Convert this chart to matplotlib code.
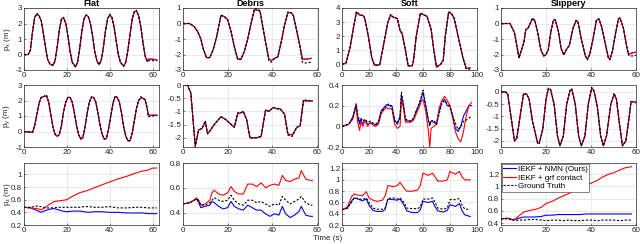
import matplotlib
matplotlib.use("Agg")
import matplotlib.pyplot as plt

plt.rcParams["font.family"] = ["Liberation Sans", "DejaVu Sans"]
plt.rcParams["mathtext.fontset"] = "custom"
plt.rcParams["mathtext.rm"] = "Liberation Sans"

# ---- Flat ----
flat_t1 = [0, 2, 3, 4, 5, 6, 7, 8, 9, 10, 11, 12, 13.5, 14.5, 15.5, 16.5, 17.5, 18.5, 19.5, 20.5,
           21.5, 22.5, 24, 25, 26, 27, 28, 29, 30, 31, 32, 33, 34, 35, 36, 37, 38, 39, 40, 41,
           42, 43, 44, 45, 46.5, 47.5, 48.5, 49.5, 50.5, 51.5, 52.5, 53.5, 54.5, 55.5, 56.5, 57.5, 58, 60, 62]
flat_px_est = [0, 0, 0.3, 1.5, 2.4, 2.6, 2.5, 2.2, 1.4, 0.5, -0.3, -0.6, -0.7, -0.4, 0.5, 1.6, 2.3, 2.35, 2.0, 1.2,
               0.2, -0.5, -0.8, -0.5, 0.4, 1.5, 2.3, 2.55, 2.45, 2.0, 1.2, 0.2, -0.4, -0.65, -0.4, 0.4, 1.5, 2.3, 2.55, 2.4,
               1.8, 0.9, 0, -0.5, -0.75, -0.5, 0.3, 1.3, 2.3, 2.75, 2.8, 2.5, 1.8, 0.8, -0.1, -0.45, -0.3, -0.3, -0.35]
flat_px_gt = [0, 0, 0.3, 1.5, 2.4, 2.65, 2.5, 2.2, 1.4, 0.5, -0.3, -0.6, -0.7, -0.4, 0.5, 1.6, 2.3, 2.4, 2.0, 1.2,
              0.2, -0.5, -0.8, -0.5, 0.4, 1.5, 2.3, 2.55, 2.45, 2.0, 1.2, 0.2, -0.4, -0.65, -0.4, 0.4, 1.5, 2.3, 2.6, 2.4,
              1.8, 0.9, 0, -0.5, -0.75, -0.5, 0.3, 1.3, 2.3, 2.8, 2.85, 2.5, 1.8, 0.8, -0.1, -0.45, -0.4, -0.4, -0.4]

flat_t2 = [0, 4, 5, 6, 7, 8, 9, 10.5, 11.5, 12.5, 13.5, 14.5, 15.5, 16.5, 17.5, 18.5, 19.5, 20.5,
           21.5, 22.5, 23.5, 24.5, 25.5, 26.5, 27.5, 28.5, 29.5, 30.5, 31.5, 32.5, 33.5, 34.5, 35.5, 36.5,
           37.5, 38.5, 39.5, 40.5, 41.5, 42.5, 43.5, 44.5, 45.5, 46.5, 47.5, 48.5, 49.5, 50.5, 51.5, 52.5,
           53.5, 54.5, 55.5, 56.5, 57.5, 58, 60, 62]
flat_py_gt = [0, -0.05, 0.4, 1.1, 1.8, 2.2, 2.25, 2.35, 1.9, 1.1, 0.3, -0.15, -0.3, -0.2, 0.4, 1.3, 1.9, 2.2,
              2.2, 1.9, 1.2, 0.4, -0.2, -0.45, -0.35, 0.3, 1.2, 1.9, 2.25, 2.2, 1.9, 1.2, 0.4, -0.2,
              -0.5, -0.4, 0.2, 1.0, 1.8, 2.3, 2.2, 1.9, 1.2, 0.3, -0.3, -0.6, -0.55, -0.1, 0.7, 1.5,
              2.0, 2.25, 2.15, 2.05, 1.5, 0.95, 1.0, 1.05]
flat_py_est = [0, -0.05, 0.4, 1.1, 1.8, 2.2, 2.25, 2.3, 1.9, 1.1, 0.3, -0.2, -0.3, -0.2, 0.4, 1.3, 1.9, 2.2,
               2.2, 1.9, 1.2, 0.4, -0.2, -0.5, -0.4, 0.3, 1.2, 1.9, 2.2, 2.2, 1.9, 1.2, 0.4, -0.2,
               -0.5, -0.45, 0.2, 1.0, 1.8, 2.25, 2.2, 1.9, 1.2, 0.3, -0.3, -0.6, -0.6, -0.1, 0.7, 1.5,
               2.0, 2.15, 2.15, 2.05, 1.5, 1.05, 1.05, 1.05]

flat_tz = [0, 3, 6, 8, 10, 12, 14, 16, 18, 20, 23, 26, 28, 30, 33, 36, 40, 44, 48, 52, 55, 58, 60, 62]
flat_pz_gt = [0.48, 0.48, 0.5, 0.49, 0.47, 0.47, 0.47, 0.48, 0.48, 0.48, 0.48, 0.48, 0.49, 0.49, 0.48, 0.48,
              0.49, 0.47, 0.47, 0.48, 0.48, 0.47, 0.47, 0.47]
flat_pz_nmn = [0.48, 0.47, 0.43, 0.4, 0.43, 0.45, 0.46, 0.44, 0.42, 0.41, 0.42, 0.42, 0.41, 0.4, 0.41, 0.41,
               0.4, 0.4, 0.39, 0.39, 0.39, 0.38, 0.38, 0.38]
flat_pz_grf = [0.48, 0.47, 0.46, 0.44, 0.48, 0.53, 0.57, 0.58, 0.59, 0.6, 0.66, 0.71, 0.73, 0.75, 0.79, 0.83,
               0.88, 0.93, 0.97, 1.02, 1.05, 1.07, 1.1, 1.1]

# ---- Debris ----
debris_t1 = [0, 3, 5, 6.5, 8, 9, 10.5, 12, 13.5, 15, 16, 17, 18.5, 20, 21.5, 23, 24.5, 26, 27.5, 29,
             30.5, 32, 33.5, 34.5, 35.5, 37, 38.5, 39.5, 41, 42.5, 44, 45.5, 47, 48.5, 49.5, 51, 52.5, 53.5, 55, 57.5]
debris_px_est = [0, 0, -0.2, -0.5, -1.0, -1.6, -2.2, -2.2, -1.7, -0.9, -0.2, 0.5, 0.45, 0.25, -0.5, -1.5, -2.3, -2.3, -1.8, -1.0,
                 0.0, 0.9, 0.85, 0.8, 0.0, -1.2, -2.3, -2.4, -2.25, -2.15, -1.2, -0.1, 0.7, 0.7, 0.5, -0.5, -1.5, -2.3, -2.3, -2.25]
debris_px_gt = [0, 0, -0.2, -0.5, -1.0, -1.6, -2.2, -2.2, -1.7, -0.9, -0.2, 0.55, 0.45, 0.25, -0.5, -1.5, -2.3, -2.3, -1.8, -1.0,
                0.0, 0.95, 0.95, 0.8, 0.0, -1.2, -2.4, -2.5, -2.25, -2.15, -1.2, -0.1, 0.75, 0.7, 0.5, -0.5, -1.6, -2.5, -2.55, -2.5]

debris_t2 = [0, 2, 3.5, 5.5, 7, 8.5, 10, 11, 12, 14, 17, 19, 21, 23, 24.5, 26, 27, 28.5, 30, 33,
             35, 37, 38.5, 40.5, 42, 43.5, 45.5, 47, 49, 51, 52.5, 54, 56, 58]
debris_py_est = [0, 0, -0.3, -2.3, -1.7, -1.65, -1.4, -1.85, -1.75, -1.5, -1.2, -1.3, -1.45, -1.6, -1.1, -1.05, -1.0, -1.3, -2.0, -2.0,
                 -1.95, -0.95, -1.0, -0.85, -0.9, -0.9, -1.1, -1.85, -1.9, -1.6, -1.55, -0.6, -0.6, -0.6]
debris_py_gt = [0, 0, -0.3, -2.35, -1.7, -1.65, -1.35, -1.85, -1.75, -1.5, -1.2, -1.3, -1.45, -1.6, -1.05, -1.05, -1.0, -1.3, -2.0, -2.0,
                -1.95, -0.95, -1.0, -0.85, -0.9, -0.9, -1.1, -1.9, -1.95, -1.6, -1.55, -0.55, -0.6, -0.6]

debris_tz = [0, 3, 5, 6, 7, 8, 10, 12, 13, 14, 16, 18, 20, 21.5, 23, 25, 27, 29, 31, 33,
             35, 37, 39, 41, 43, 44.5, 46, 48, 50, 52, 53, 55, 57, 58]
debris_pz_gt = [0.47, 0.48, 0.5, 0.51, 0.5, 0.46, 0.46, 0.48, 0.5, 0.52, 0.5, 0.49, 0.5, 0.54, 0.5, 0.47, 0.46, 0.5, 0.5, 0.48,
                0.49, 0.47, 0.45, 0.47, 0.46, 0.53, 0.5, 0.47, 0.49, 0.51, 0.53, 0.48, 0.46, 0.46]
debris_pz_nmn = [0.47, 0.48, 0.5, 0.51, 0.48, 0.44, 0.45, 0.46, 0.49, 0.48, 0.45, 0.43, 0.44, 0.49, 0.45, 0.43, 0.42, 0.46, 0.44, 0.42,
                 0.42, 0.39, 0.37, 0.39, 0.38, 0.45, 0.39, 0.36, 0.38, 0.41, 0.45, 0.38, 0.37, 0.37]
debris_pz_grf = [0.47, 0.48, 0.5, 0.52, 0.5, 0.46, 0.47, 0.5, 0.56, 0.58, 0.55, 0.54, 0.56, 0.61, 0.57, 0.55, 0.55, 0.63, 0.63, 0.61,
                 0.64, 0.6, 0.62, 0.63, 0.62, 0.7, 0.66, 0.65, 0.67, 0.68, 0.74, 0.67, 0.66, 0.66]

# ---- Soft ----
soft_t1 = [0, 3, 6, 8.5, 10.7, 13, 16, 17, 19.5, 22, 24, 27, 28, 31, 34, 36, 38, 41, 43, 44.5,
           47, 49, 52, 53, 55, 58, 61, 63, 66, 68, 70, 73, 75, 76.5, 79, 81, 83, 86, 89.5, 92, 95]
soft_px_est = [0, 0.1, 1.2, 2.6, 3.7, 3.5, 3.45, 3.2, 2.0, 0.5, -0.05, -0.05, 0.0, 1.5, 3.0, 3.5, 3.35, 3.25, 2.4, 2.2,
               1.0, -0.1, -0.1, 0.3, 2.0, 3.6, 3.5, 3.4, 2.5, 1.0, -0.2, 0.0, 0.3, 2.0, 3.7, 3.6, 3.3, 2.0, 0.5, -0.3, -0.25]
soft_px_gt = [0, 0.1, 1.2, 2.6, 3.75, 3.55, 3.45, 3.2, 2.0, 0.5, -0.05, -0.05, 0.0, 1.5, 3.0, 3.55, 3.35, 3.25, 2.4, 2.2,
              1.0, -0.1, -0.1, 0.3, 2.0, 3.65, 3.5, 3.4, 2.5, 1.0, -0.15, 0.0, 0.3, 2.0, 3.75, 3.6, 3.3, 2.0, 0.5, -0.3, -0.35]

soft_t2 = [0, 5, 8, 10.5, 11.5, 13, 14, 15.5, 17, 19, 21, 23, 25, 27, 29, 31, 33, 35, 37, 39,
           41, 43, 44, 45.5, 47, 49, 51, 53, 55, 57, 59, 60, 62, 64, 65, 66, 68, 70, 72, 74,
           76, 78, 80, 82, 84, 86, 88, 90, 92, 94, 96]
soft_py_gt = [0, 0.02, 0.08, 0.2, 0.12, 0.05, 0.08, 0.05, 0.07, 0.04, 0.05, 0.03, 0.02, 0.05, 0.14, 0.17, 0.2, 0.22, 0.18, 0.05,
              0.04, 0.08, 0.33, 0.22, 0.07, 0.06, 0.05, 0.08, 0.15, 0.22, 0.3, 0.35, 0.2, 0.05, 0.0, 0.05, 0.06, 0.02, 0.12, 0.22,
              0.25, 0.22, 0.18, 0.1, 0.03, -0.03, 0.0, 0.05, 0.06, 0.08, 0.1]
soft_py_nmn = [0, 0.02, 0.09, 0.22, 0.1, 0.02, 0.07, 0.02, 0.06, 0.02, 0.03, 0.03, 0.01, 0.04, 0.15, 0.18, 0.21, 0.2, 0.2, 0.06,
               0.02, 0.1, 0.3, 0.2, 0.06, 0.05, 0.05, 0.07, 0.15, 0.2, 0.28, 0.33, 0.2, 0.06, 0.02, 0.05, 0.04, 0.02, 0.15, 0.24,
               0.26, 0.2, 0.2, 0.1, -0.02, -0.05, 0.0, 0.1, 0.15, 0.2, 0.2]
soft_py_grf = [0, 0.02, 0.07, 0.2, 0.05, -0.04, 0.04, 0.0, 0.06, 0.0, 0.04, 0.01, 0.0, 0.02, 0.12, 0.16, 0.18, 0.17, 0.17, 0.02,
               -0.02, 0.0, 0.26, 0.18, 0.04, 0.04, 0.04, 0.06, 0.12, 0.18, 0.25, 0.26, 0.15, -0.05, -0.2, -0.02, 0.0, 0.02, 0.18, 0.25,
               0.29, 0.25, 0.2, 0.08, -0.05, -0.12, -0.15, -0.05, 0.1, 0.2, 0.23]

soft_tz = [0, 4, 7, 9, 12, 15, 18, 20, 23, 26, 30, 32, 34, 38, 41, 43, 46, 48, 52, 56,
           58, 60, 64, 67, 69, 71, 75, 78, 80, 84, 87, 89, 91, 95]
soft_pz_gt = [0.47, 0.5, 0.6, 0.68, 0.67, 0.65, 0.68, 0.6, 0.5, 0.48, 0.48, 0.5, 0.67, 0.68, 0.66, 0.68, 0.6, 0.5, 0.49, 0.49,
              0.52, 0.66, 0.66, 0.68, 0.6, 0.5, 0.48, 0.5, 0.65, 0.65, 0.67, 0.55, 0.48, 0.48]
soft_pz_nmn = [0.47, 0.5, 0.62, 0.68, 0.66, 0.63, 0.66, 0.55, 0.46, 0.44, 0.44, 0.48, 0.66, 0.65, 0.64, 0.66, 0.55, 0.45, 0.42, 0.42,
               0.47, 0.62, 0.6, 0.62, 0.52, 0.45, 0.43, 0.46, 0.56, 0.53, 0.58, 0.45, 0.38, 0.35]
soft_pz_grf = [0.47, 0.52, 0.7, 0.75, 0.73, 0.72, 0.79, 0.68, 0.64, 0.62, 0.64, 0.72, 0.9, 0.88, 0.9, 0.96, 0.85, 0.8, 0.8, 0.82,
               0.9, 1.12, 1.08, 1.12, 1.05, 0.98, 0.98, 1.0, 1.15, 1.1, 1.15, 1.05, 1.0, 1.0]

# ---- Slippery ----
slip_t1 = [0, 4, 6, 8, 10.2, 11, 12, 14, 15, 16.2, 17.7, 19, 20, 21, 22.2, 23.3, 24.1, 25.5, 26.7, 27.9,
           29, 30.4, 32, 33.4, 34.2, 35.7, 37.5, 38.4, 39.4, 40.9, 42.4, 43.5, 44.7, 46.2, 47.7, 48.4, 49.5, 50.7, 52.2, 52.9,
           54.4, 55.9, 56.7, 58.2, 60]
slip_px_est = [0, 0, -0.6, -2.2, -1.2, -0.4, -0.3, 0.3, 0.2, -0.5, -1.7, -2.1, -2.0, -1.7, -0.5, 0.2, 0.25, -0.5, -1.6, -2.0,
               -1.7, -1.4, -0.3, 0.2, 0.1, -1.0, -2.1, -2.3, -2.0, -1.0, 0.2, 0.3, -0.2, -1.2, -2.2, -2.3, -1.8, -0.8, 0.3, 0.35,
               -0.3, -1.5, -2.0, -1.9, -1.85]
slip_px_gt = [0, 0, -0.6, -2.25, -1.2, -0.4, -0.3, 0.35, 0.2, -0.5, -1.7, -2.1, -2.0, -1.7, -0.5, 0.2, 0.25, -0.5, -1.6, -2.05,
              -1.7, -1.4, -0.3, 0.2, 0.1, -1.0, -2.1, -2.35, -2.0, -1.0, 0.2, 0.3, -0.2, -1.2, -2.2, -2.35, -1.8, -0.8, 0.3, 0.35,
              -0.3, -1.5, -2.05, -2.1, -2.05]

slip_t2 = [0, 2, 3, 6, 7, 10, 11.5, 12.5, 14, 16.3, 17, 18.6, 20, 21, 22, 23.6, 25.1, 26.2, 27.7, 29.2,
           30.7, 31.5, 33, 34.5, 35.7, 37.3, 38.8, 40.3, 41.3, 42.8, 44.3, 45.5, 46.9, 48.8, 50.3, 51.3, 52.5, 54, 55.5, 57,
           57.8, 60]
slip_py_est = [0, 0, -0.1, -2.0, -1.9, -0.1, -0.1, -0.3, -1.2, -2.1, -2.1, -1.5, -0.3, 0.1, 0.1, -0.5, -1.8, -2.2, -1.8, -0.5,
               0.05, 0.1, -0.5, -1.8, -2.2, -1.8, -0.5, 0.15, 0.05, -0.6, -1.8, -2.2, -1.8, -0.5, -0.1, -0.3, -1.2, -2.2, -2.0, -1.0,
               -0.4, -0.4]
slip_py_gt = [0, 0, -0.1, -2.0, -1.9, -0.05, -0.1, -0.3, -1.2, -2.1, -2.1, -1.5, -0.3, 0.15, 0.12, -0.5, -1.8, -2.2, -1.8, -0.5,
              0.1, 0.12, -0.5, -1.8, -2.2, -1.8, -0.5, 0.18, 0.05, -0.6, -1.8, -2.2, -1.8, -0.5, -0.05, -0.3, -1.2, -2.2, -2.0, -1.0,
              -0.4, -0.45]

slip_tz = [0, 3, 5, 6, 8, 10, 13, 15, 18, 20, 23, 25, 28, 30, 33, 35, 38, 40, 43, 45, 48, 50, 53, 55, 58]
slip_pz_gt = [0.47, 0.47, 0.46, 0.44, 0.45, 0.45, 0.46, 0.46, 0.45, 0.44, 0.45, 0.45, 0.44, 0.45, 0.44, 0.44,
              0.45, 0.45, 0.44, 0.45, 0.45, 0.45, 0.44, 0.45, 0.45]
slip_pz_nmn = [0.47, 0.48, 0.46, 0.46, 0.48, 0.5, 0.5, 0.5, 0.51, 0.53, 0.53, 0.54, 0.54, 0.54, 0.54, 0.54,
               0.55, 0.55, 0.55, 0.55, 0.55, 0.55, 0.55, 0.55, 0.55]
slip_pz_grf = [0.47, 0.48, 0.45, 0.46, 0.52, 0.58, 0.61, 0.62, 0.66, 0.72, 0.76, 0.8, 0.85, 0.88, 0.94, 0.98,
               1.02, 1.05, 1.1, 1.15, 1.2, 1.22, 1.27, 1.3, 1.32]

titles = ["Flat", "Debris", "Soft", "Slippery"]
ylabels = [r"p$_\mathrm{x}$ (m)", r"p$_\mathrm{y}$ (m)", r"p$_\mathrm{z}$ (m)"]
legend_labels = ["IEKF + NMN (Ours)", "IEKF + grf contact", "Ground Truth"]

# (t, nmn, grf, gt) per panel, row by row
panels = [
    [(flat_t1, flat_px_est, flat_px_est, flat_px_gt),
     (debris_t1, debris_px_est, debris_px_est, debris_px_gt),
     (soft_t1, soft_px_est, soft_px_est, soft_px_gt),
     (slip_t1, slip_px_est, slip_px_est, slip_px_gt)],
    [(flat_t2, flat_py_est, flat_py_est, flat_py_gt),
     (debris_t2, debris_py_est, debris_py_est, debris_py_gt),
     (soft_t2, soft_py_nmn, soft_py_grf, soft_py_gt),
     (slip_t2, slip_py_est, slip_py_est, slip_py_gt)],
    [(flat_tz, flat_pz_nmn, flat_pz_grf, flat_pz_gt),
     (debris_tz, debris_pz_nmn, debris_pz_grf, debris_pz_gt),
     (soft_tz, soft_pz_nmn, soft_pz_grf, soft_pz_gt),
     (slip_tz, slip_pz_nmn, slip_pz_grf, slip_pz_gt)],
]

xlims = [(0, 63), (0, 60.5), (0, 100), (0, 60)]
xticks = [[0, 20, 40, 60], [0, 20, 40, 60], [0, 20, 40, 60, 80, 100], [0, 20, 40, 60]]
ylims = [[(-1, 3), (-3, 1), (-0.4, 4), (-3, 1)],
         [(-1, 3), (-2.35, 0), (-0.2, 0.4), (-2.25, 0.28)],
         [(0.2, 1.18), (0.3, 0.8), (0.2, 1.3), (0.37, 1.38)]]
yticks = [[[-1, 0, 1, 2, 3], [-3, -2, -1, 0, 1], [0, 1, 2, 3, 4], [-3, -2, -1, 0, 1]],
          [[-1, 0, 1, 2, 3], [-2, -1.5, -1, -0.5, 0], [-0.2, 0, 0.2, 0.4], [-2, -1.5, -1, -0.5, 0]],
          [[0.2, 0.4, 0.6, 0.8, 1], [0.4, 0.6, 0.8], [0.2, 0.4, 0.6, 0.8, 1, 1.2], [0.4, 0.6, 0.8, 1, 1.2]]]

W, H = 640, 244
col_left = [24, 183, 342, 501]
row_top = [8, 85, 163]
ax_w, ax_h = 135, 62

fig = plt.figure(figsize=(6.4, 2.44), dpi=100)
fs = 5.8
tick_col = "#262626"

for r in range(3):
    for c in range(4):
        ax = fig.add_axes([col_left[c] / W, (H - row_top[r] - ax_h) / H, ax_w / W, ax_h / H])
        t, nmn, grf, gt = panels[r][c]
        l1, = ax.plot(t, nmn, color="blue", lw=0.8)
        l2, = ax.plot(t, grf, color="red", lw=0.8)
        l3, = ax.plot(t, gt, color="black", lw=0.8, linestyle=(0, (2, 1.5)))
        ax.set_xlim(*xlims[c])
        ax.set_xticks(xticks[c])
        ax.set_ylim(*ylims[r][c])
        ax.set_yticks(yticks[r][c])
        ax.set_yticklabels([f"{v:g}" for v in yticks[r][c]])
        ax.grid(True, color="#e2e2e2", lw=0.5)
        ax.set_axisbelow(True)
        ax.tick_params(direction="in", length=1.5, width=0.4, labelsize=fs, colors=tick_col, pad=1.2)
        for s in ax.spines.values():
            s.set_linewidth(0.5)
            s.set_color(tick_col)
        if r == 0:
            ax.set_title(titles[c], fontsize=6.5, fontweight="bold", pad=1.5)
        if c == 0:
            ax.set_ylabel(ylabels[r], fontsize=5.8, color=tick_col)
            ax.yaxis.set_label_coords(-0.085, 0.5)
        if r == 2 and c == 3:
            leg = ax.legend([l1, l2, l3], legend_labels, loc="upper left", fontsize=fs,
                            frameon=True, fancybox=False, edgecolor=tick_col, framealpha=1,
                            handlelength=1.6, handletextpad=0.2, borderpad=0.2, labelspacing=0.1,
                            borderaxespad=0.1)
            leg.get_frame().set_linewidth(0.4)

fig.text(328 / W, 1 - 239 / H, "Time (s)", fontsize=fs, color=tick_col, ha="center", va="center")

fig.savefig("out.png", dpi=100)
